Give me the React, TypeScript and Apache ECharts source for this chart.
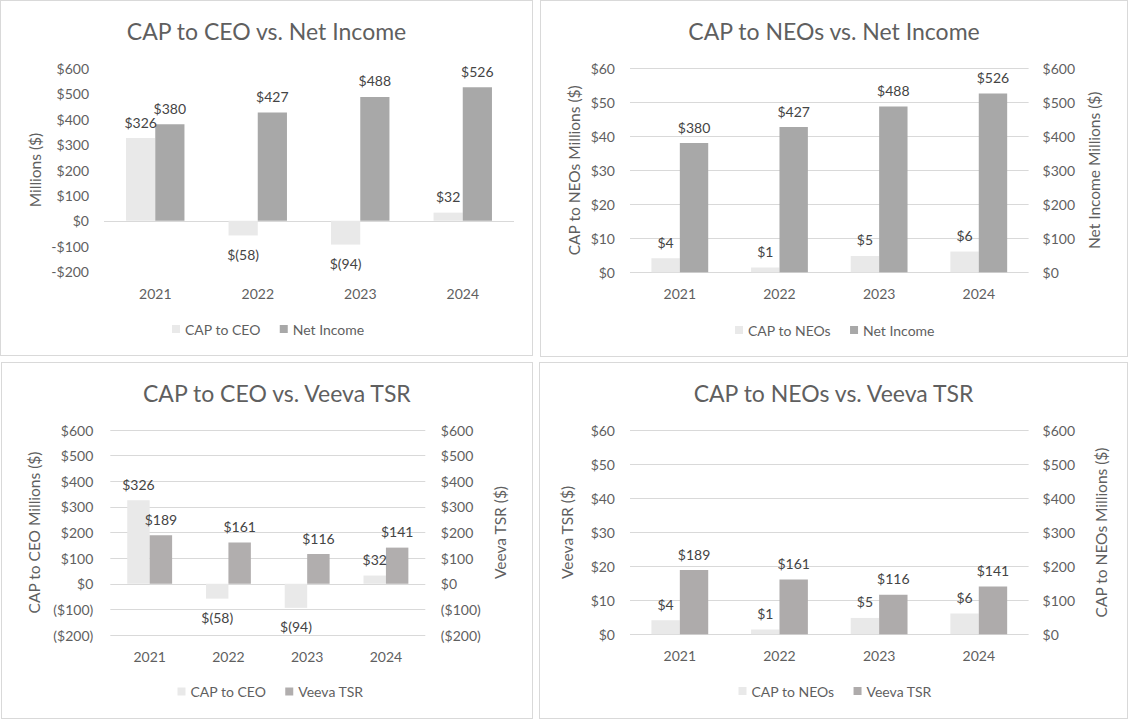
import React, { useEffect, useRef } from "react";
import * as echarts from "echarts";

const years = ["2021", "2022", "2023", "2024"];
const capCeo = [326, -58, -94, 32];
const capNeos = [4.1, 1.4, 4.8, 6.1];
const netIncome = [380, 427, 488, 526];
const veevaTsr = [189, 161, 116, 141];

const FONT = "Lato, 'Open Sans', sans-serif";
const LIGHT = "#e9e9e9";
const GRAY = "#a8a8a8";
const TSR3 = "#b1aeae";
const TSR4 = "#aeabab";
const AXIS_TXT = "#5f5f5f";
const LBL_TXT = "#444444";
const GRID = "#d9d9d9";

const dashFmt = (v: number) => (v < 0 ? "-$" + Math.abs(v) : "$" + v);
const parenFmt = (v: number) => (v < 0 ? "($" + Math.abs(v) + ")" : "$" + v);
const dataFmt = (v: number) => {
  const r = Math.round(v);
  return r < 0 ? "$(" + Math.abs(r) + ")" : "$" + r;
};

type AxisCfg = {
  min: number;
  max: number;
  interval: number;
  fmt: (v: number) => string;
  name: string;
  nameGap: number;
  labelMargin: number;
  split: "all" | "zero" | "none";
};

type SeriesCfg = { name: string; data: number[]; color: string; axis: number };

type PanelCfg = {
  panel: { x: number; y: number; w: number; h: number };
  grid: { x: number; y: number; w: number; h: number };
  title: string;
  titleX: number | null;
  titleY: number;
  legendX: number;
  legendY: number;
  catMargin: number;
  yAxes: AxisCfg[];
  series: SeriesCfg[];
};

const panels: PanelCfg[] = [
  {
    panel: { x: 0, y: 0, w: 533, h: 356 },
    grid: { x: 104, y: 68.5, w: 410, h: 203 },
    title: "CAP to CEO vs. Net Income",
    titleX: null,
    titleY: 31,
    legendX: 172,
    legendY: 329,
    catMargin: 15,
    yAxes: [
      { min: -200, max: 600, interval: 100, fmt: dashFmt, name: "Millions ($)", nameGap: 61, labelMargin: 15, split: "zero" },
    ],
    series: [
      { name: "CAP to CEO", data: capCeo, color: LIGHT, axis: 0 },
      { name: "Net Income", data: netIncome, color: GRAY, axis: 0 },
    ],
  },
  {
    panel: { x: 540, y: 0, w: 588, h: 357 },
    grid: { x: 630, y: 68.3, w: 398.6, h: 204 },
    title: "CAP to NEOs vs. Net Income",
    titleX: null,
    titleY: 31,
    legendX: 735,
    legendY: 330,
    catMargin: 14,
    yAxes: [
      { min: 0, max: 60, interval: 10, fmt: (v) => "$" + v, name: "CAP to NEOs Millions ($)", nameGap: 48, labelMargin: 15, split: "all" },
      { min: 0, max: 600, interval: 100, fmt: (v) => "$" + v, name: "Net Income Millions ($)", nameGap: 57, labelMargin: 14, split: "none" },
    ],
    series: [
      { name: "CAP to NEOs", data: capNeos, color: LIGHT, axis: 0 },
      { name: "Net Income", data: netIncome, color: GRAY, axis: 1 },
    ],
  },
  {
    panel: { x: 1, y: 362, w: 532, h: 357 },
    grid: { x: 110.3, y: 430, w: 315, h: 205 },
    title: "CAP to CEO vs. Veeva TSR",
    titleX: 143,
    titleY: 393,
    legendX: 177.5,
    legendY: 691.5,
    catMargin: 14,
    yAxes: [
      { min: -200, max: 600, interval: 100, fmt: parenFmt, name: "CAP to CEO Millions ($)", nameGap: 68, labelMargin: 17, split: "all" },
      { min: -200, max: 600, interval: 100, fmt: parenFmt, name: "Veeva TSR ($)", nameGap: 67, labelMargin: 15.5, split: "none" },
    ],
    series: [
      { name: "CAP to CEO", data: capCeo, color: LIGHT, axis: 0 },
      { name: "Veeva TSR", data: veevaTsr, color: TSR3, axis: 1 },
    ],
  },
  {
    panel: { x: 539, y: 362, w: 589, h: 357 },
    grid: { x: 630, y: 430.7, w: 398.6, h: 203.5 },
    title: "CAP to NEOs vs. Veeva TSR",
    titleX: null,
    titleY: 393,
    legendX: 738.5,
    legendY: 691,
    catMargin: 14,
    yAxes: [
      { min: 0, max: 60, interval: 10, fmt: (v) => "$" + v, name: "Veeva TSR ($)", nameGap: 55, labelMargin: 15, split: "all" },
      { min: 0, max: 600, interval: 100, fmt: (v) => "$" + v, name: "CAP to NEOs Millions ($)", nameGap: 64, labelMargin: 14, split: "none" },
    ],
    series: [
      { name: "CAP to NEOs", data: capNeos, color: LIGHT, axis: 0 },
      { name: "Veeva TSR", data: veevaTsr, color: TSR4, axis: 1 },
    ],
  },
];

function buildOption(p: PanelCfg) {
  const ox = p.panel.x + 1;
  const oy = p.panel.y + 1;
  const gridLeft = p.grid.x - ox;
  const gridTop = p.grid.y - oy;
  return {
    animation: false,
    textStyle: { fontFamily: FONT },
    title: {
      text: p.title,
      left: p.titleX === null ? "center" : p.titleX - ox,
      top: p.titleY - oy - 13,
      padding: 0,
      textStyle: { fontFamily: FONT, fontSize: 23, fontWeight: "normal", color: AXIS_TXT, lineHeight: 26 },
    },
    legend: {
      left: p.legendX - ox,
      top: p.legendY - oy - 8,
      padding: 0,
      itemWidth: 8,
      itemHeight: 8,
      itemGap: 19,
      icon: "rect",
      textStyle: { fontFamily: FONT, fontSize: 14, color: AXIS_TXT, lineHeight: 16 },
      data: p.series.map((s) => s.name),
    },
    grid: { left: gridLeft, top: gridTop, width: p.grid.w, height: p.grid.h, containLabel: false },
    xAxis: {
      type: "category",
      data: years,
      axisLine: { show: false },
      axisTick: { show: false },
      axisLabel: { color: AXIS_TXT, fontSize: 14, fontFamily: FONT, margin: p.catMargin },
    },
    yAxis: p.yAxes.map((a, i) => {
      const n = Math.round((a.max - a.min) / a.interval) + 1;
      const zeroIdx = Math.round((0 - a.min) / a.interval);
      const colors: string[] = [];
      for (let k = 0; k < n; k++) colors.push(a.split === "zero" && k !== zeroIdx ? "rgba(0,0,0,0)" : GRID);
      return {
        type: "value",
        position: i === 0 ? "left" : "right",
        min: a.min,
        max: a.max,
        interval: a.interval,
        axisLine: { show: false },
        axisTick: { show: false },
        axisLabel: { formatter: a.fmt, color: AXIS_TXT, fontSize: 14, fontFamily: FONT, margin: a.labelMargin },
        splitLine: { show: a.split !== "none", lineStyle: { color: colors, width: 1 } },
        name: a.name,
        nameLocation: "middle",
        nameRotate: 90,
        nameGap: a.nameGap,
        nameMoveOverlap: false,
        nameTextStyle: { color: AXIS_TXT, fontSize: 15.5, fontFamily: FONT },
      };
    }),
    series: p.series.map((s) => ({
      type: "bar",
      name: s.name,
      yAxisIndex: s.axis,
      barGap: "0%",
      barCategoryGap: "43%",
      itemStyle: { color: s.color },
      data: s.data.map((v) => ({
        value: v,
        label: { position: v < 0 ? "bottom" : "top", distance: v < 0 ? 12 : 9 },
      })),
      label: {
        show: true,
        formatter: (prm: any) => dataFmt(prm.value),
        color: LBL_TXT,
        fontSize: 14,
        fontFamily: FONT,
      },
    })),
  };
}

function Panel({ cfg }: { cfg: PanelCfg }) {
  const ref = useRef<HTMLDivElement>(null);
  useEffect(() => {
    if (!ref.current) return;
    const chart = echarts.init(ref.current, undefined, { renderer: "svg" });
    chart.setOption(buildOption(cfg) as any);
    return () => chart.dispose();
  }, [cfg]);
  return (
    <div
      style={{
        position: "absolute",
        left: cfg.panel.x,
        top: cfg.panel.y,
        width: cfg.panel.w,
        height: cfg.panel.h,
        border: "1px solid " + GRID,
        boxSizing: "border-box",
        background: "#fff",
      }}
    >
      <div ref={ref} style={{ width: cfg.panel.w - 2, height: cfg.panel.h - 2 }} />
    </div>
  );
}

export default function App() {
  return (
    <div style={{ position: "absolute", left: 0, top: 0, width: 1128, height: 720, background: "#fff" }}>
      {panels.map((p, i) => (
        <Panel key={i} cfg={p} />
      ))}
    </div>
  );
}
